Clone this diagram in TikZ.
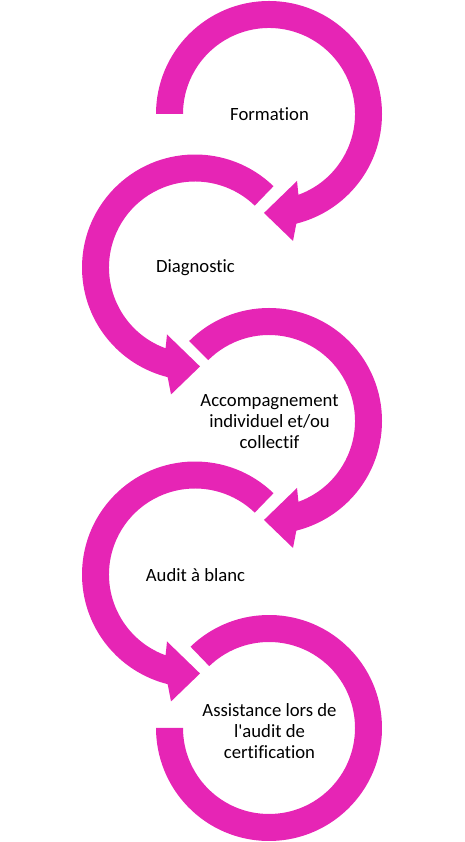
\documentclass[tikz,border=0pt]{standalone}
\usepackage{fontspec}
\setmainfont[Ligatures={NoCommon}]{Carlito}
\definecolor{ringpink}{RGB}{230,37,181}
\begin{document}
\begin{tikzpicture}[x=1pt,y=1pt,
  ring/.style={fill=ringpink},
  steptext/.style={align=center,font=\fontsize{18.7}{21}\selectfont}]
\useasboundingbox (0,0) rectangle (465,842);
\begin{scope}[shift={(269,728)}]
\fill[ring] (180:113) arc[start angle=180,end angle=-76,radius=113] -- (-79.3:129.2) -- (-92.9:99.1) -- (-67.3:72.6) -- (-70:86) arc[start angle=-70,end angle=180,radius=86] -- cycle;
\end{scope}
\begin{scope}[shift={(195,574.5)},xscale=-1]
\fill[ring] (134:113) arc[start angle=134,end angle=-76,radius=113] -- (-79.3:129.2) -- (-92.9:99.1) -- (-67.3:72.6) -- (-70:86) arc[start angle=-70,end angle=134,radius=86] -- cycle;
\end{scope}
\begin{scope}[shift={(269,421)}]
\fill[ring] (135:113) arc[start angle=135,end angle=-76,radius=113] -- (-79.3:129.2) -- (-92.9:99.1) -- (-67.3:72.6) -- (-70:86) arc[start angle=-70,end angle=135,radius=86] -- cycle;
\end{scope}
\begin{scope}[shift={(195,267.5)},xscale=-1]
\fill[ring] (134:113) arc[start angle=134,end angle=-76,radius=113] -- (-79.3:129.2) -- (-92.9:99.1) -- (-67.3:72.6) -- (-70:86) arc[start angle=-70,end angle=134,radius=86] -- cycle;
\end{scope}
\begin{scope}[shift={(269,114)}]
\fill[ring] (134:113) arc[start angle=134,end angle=-180,radius=113] -- (-180:86) arc[start angle=-180,end angle=134,radius=86] -- cycle;
\end{scope}
\node[steptext] (formation) at (269.5,728) {Formation};
\node[steptext] (diagnostic) at (195.5,574.5) {Diagnostic};
\node[steptext] (accomp) at (269.5,420) {Accompagnement\\individuel et/ou\\collectif};
\node[steptext] (audit) at (195.5,266.5) {Audit à blanc};
\node[steptext] (assist) at (269.5,111) {Assistance lors de\\l\textquotesingle audit de\\certification};
\end{tikzpicture}
\end{document}
